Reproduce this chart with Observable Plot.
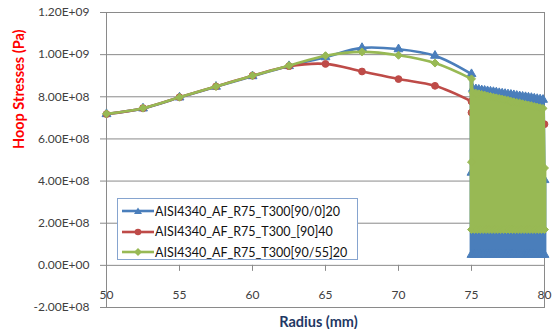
<!DOCTYPE html>
<html><head><meta charset="utf-8">
<script src="https://cdn.jsdelivr.net/npm/d3@7"></script>
<script src="https://cdn.jsdelivr.net/npm/@observablehq/plot@0.6"></script>
<style>
body{margin:0;background:#fff;}
#wrap{position:relative;width:555px;height:329px;font-family:Lato,sans-serif;}
#wrap svg{display:block}
g[aria-label="y-axis tick"]{stroke:#8a8a8a}
#legend{position:absolute;left:117px;top:198px;width:241px;height:62px;border:1px solid #86a4cf;background:#fff;box-sizing:border-box;padding-top:2px}
.item{display:flex;align-items:center;height:20.5px;font-size:12.5px;color:#111;white-space:nowrap}
.item svg{margin-left:4px;margin-right:1px}
</style></head><body><div id="wrap"></div>
<script>
// ---- data ----
const radius = [50, 52.5, 55, 57.5, 60, 62.5, 65, 67.5, 70, 72.5, 75];
const blueMain  = [7.18e8, 7.45e8, 7.97e8, 8.48e8, 8.98e8, 9.46e8, 9.88e8, 1.032e9, 1.026e9, 9.95e8, 9.08e8];
const redMain   = [7.18e8, 7.46e8, 7.98e8, 8.49e8, 9.00e8, 9.45e8, 9.56e8, 9.20e8, 8.84e8, 8.52e8, 7.78e8];
const greenMain = [7.19e8, 7.46e8, 7.98e8, 8.49e8, 9.00e8, 9.48e8, 9.95e8, 1.013e9, 9.97e8, 9.60e8, 8.85e8];

const redTailX = [75, 80];
const redTailY = [7.25e8, 6.70e8];

const oscX = [75.0, 75.1, 75.2, 75.3, 75.4, 75.5, 75.6, 75.7, 75.8, 75.9,
              76.0, 76.1, 76.2, 76.3, 76.4, 76.5, 76.6, 76.7, 76.8, 76.9,
              77.0, 77.1, 77.2, 77.3, 77.4, 77.5, 77.6, 77.7, 77.8, 77.9,
              78.0, 78.1, 78.2, 78.3, 78.4, 78.5, 78.6, 78.7, 78.8, 78.9,
              79.0, 79.1, 79.2, 79.3, 79.4, 79.5, 79.6, 79.7, 79.8, 79.9, 80.0];
const blueOsc = [0.5e8, 8.38e8, 0.5e8, 8.36e8, 0.5e8, 8.34e8, 0.5e8, 8.31e8, 0.5e8, 8.29e8,
                 0.5e8, 8.27e8, 0.5e8, 8.25e8, 0.5e8, 8.23e8, 0.5e8, 8.21e8, 0.5e8, 8.18e8,
                 0.5e8, 8.16e8, 0.5e8, 8.14e8, 0.5e8, 8.12e8, 0.5e8, 8.10e8, 0.5e8, 8.08e8,
                 0.5e8, 8.05e8, 0.5e8, 8.03e8, 0.5e8, 8.01e8, 0.5e8, 7.99e8, 0.5e8, 7.97e8,
                 0.5e8, 7.95e8, 0.5e8, 7.92e8, 0.5e8, 7.90e8, 0.5e8, 7.88e8, 0.5e8, 7.86e8, 0.5e8];
const greenOsc = [1.7e8, 8.20e8, 1.7e8, 8.17e8, 1.7e8, 8.14e8, 1.7e8, 8.11e8, 1.7e8, 8.08e8,
                  1.7e8, 8.04e8, 1.7e8, 8.01e8, 1.7e8, 7.98e8, 1.7e8, 7.95e8, 1.7e8, 7.92e8,
                  1.7e8, 7.89e8, 1.7e8, 7.86e8, 1.7e8, 7.83e8, 1.7e8, 7.79e8, 1.7e8, 7.76e8,
                  1.7e8, 7.73e8, 1.7e8, 7.70e8, 1.7e8, 7.67e8, 1.7e8, 7.64e8, 1.7e8, 7.61e8,
                  1.7e8, 7.58e8, 1.7e8, 7.54e8, 1.7e8, 7.51e8, 1.7e8, 7.48e8, 1.7e8, 7.45e8, 1.7e8];
const midX = [75, 80];
const blueMid = [4.40e8, 4.05e8];
const greenMid = [4.90e8, 4.62e8];

const seriesNames = ["AISI4340_AF_R75_T300[90/0]20", "AISI4340_AF_R75_T300_[90]40", "AISI4340_AF_R75_T300[90/55]20"];
const seriesColors = ["#4a7ebb", "#be4b48", "#98b954"];
const seriesSymbols = ["triangle", "circle", "diamond2"];
const seriesR = [3.3, 3.4, 3.6];

const xTicks = [50, 55, 60, 65, 70, 75, 80];
const yTicks = [-2e8, 0, 2e8, 4e8, 6e8, 8e8, 1e9, 1.2e9];
const yGrid = [2e8, 4e8, 6e8, 8e8, 1e9];

// ---- build tables ----
const pts = (xs, ys) => xs.map((x, i) => ({x, y: ys[i]}));
function tail(mainY, midY, oscY) {
  return [{x: 75, y: mainY[mainY.length - 1]}, {x: midX[0], y: midY[0]}, ...pts(oscX, oscY), {x: midX[1], y: midY[1]}];
}
const series = [
  {main: pts(radius, blueMain), tail: tail(blueMain, blueMid, blueOsc), w: 3.8},
  {main: pts(radius, redMain), tail: [{x: 75, y: redMain[redMain.length - 1]}, ...pts(redTailX, redTailY)], w: 2.6},
  {main: pts(radius, greenMain), tail: tail(greenMain, greenMid, greenOsc), w: 3.8}
];

function fmt(v) {
  const [m, e] = v.toExponential(2).split("e");
  const n = +e;
  return m + "E" + (n < 0 ? "-" : "+") + String(Math.abs(n)).padStart(2, "0");
}

const seriesMarks = series.flatMap((s, k) => {
  const c = seriesColors[k];
  return [
    Plot.line(s.main, {x: "x", y: "y", stroke: c, strokeWidth: 2.6, curve: "catmull-rom"}),
    Plot.line(s.tail, {x: "x", y: "y", stroke: c, strokeWidth: s.w, curve: "linear", strokeLinejoin: "miter", strokeMiterlimit: 1}),
    Plot.dot([...s.main, ...s.tail.slice(1)], {x: "x", y: "y", symbol: () => seriesSymbols[k], r: seriesR[k], fill: c, stroke: c, strokeWidth: 1})
  ];
});

const chart = Plot.plot({
  width: 555, height: 329,
  marginLeft: 106, marginRight: 11, marginTop: 12, marginBottom: 22,
  style: {fontFamily: "Lato, sans-serif", fontSize: "12px", background: "#fff"},
  x: {domain: [50, 80], axis: null},
  y: {domain: [-2e8, 1.2e9]},
  symbol: {type: "identity"},
  marks: [
    Plot.gridY(yGrid, {stroke: "#8a8a8a", strokeOpacity: 1}),
    Plot.ruleY([0], {stroke: "#8a8a8a"}),
    Plot.ruleX(xTicks, {y1: 0, y2: 0, insetBottom: -6, stroke: "#8a8a8a"}),
    Plot.frame({stroke: "#8a8a8a"}),
    Plot.axisY({ticks: yTicks, tickFormat: fmt, tickSize: 6, tickPadding: 11, fill: "#404040", label: null}),
    Plot.text(xTicks, {x: d => d, frameAnchor: "bottom", dy: -12, text: d => String(d), fill: "#404040", fontSize: 12, lineAnchor: "middle"}),
    ...seriesMarks,
    Plot.text(["Hoop Stresses (Pa)"], {frameAnchor: "left", rotate: -90, dx: -87, dy: -11, fill: "#ff0000", fontWeight: "bold", fontSize: 14.5}),
    Plot.text(["Radius (mm)"], {frameAnchor: "bottom", dx: -7, dy: 15, fill: "#1f3864", fontWeight: "bold", fontSize: 14.5, lineAnchor: "middle"})
  ]
});

const wrap = document.getElementById("wrap");
wrap.appendChild(chart);

// legend
const legend = document.createElement("div");
legend.id = "legend";
const symPaths = {
  triangle: '<path d="M16,2.5 L20,9 L12,9 Z"/>',
  circle: '<circle cx="16" cy="6" r="3.3"/>',
  diamond2: '<path d="M16,2 L20,6 L16,10 L12,6 Z"/>'
};
seriesNames.forEach((name, k) => {
  const item = document.createElement("div");
  item.className = "item";
  item.innerHTML = `<svg width="32" height="12"><line x1="0" x2="32" y1="6" y2="6" stroke="${seriesColors[k]}" stroke-width="2.6"/><g fill="${seriesColors[k]}">${symPaths[seriesSymbols[k]]}</g></svg><span>${name}</span>`;
  legend.appendChild(item);
});
wrap.appendChild(legend);
</script></body></html>
